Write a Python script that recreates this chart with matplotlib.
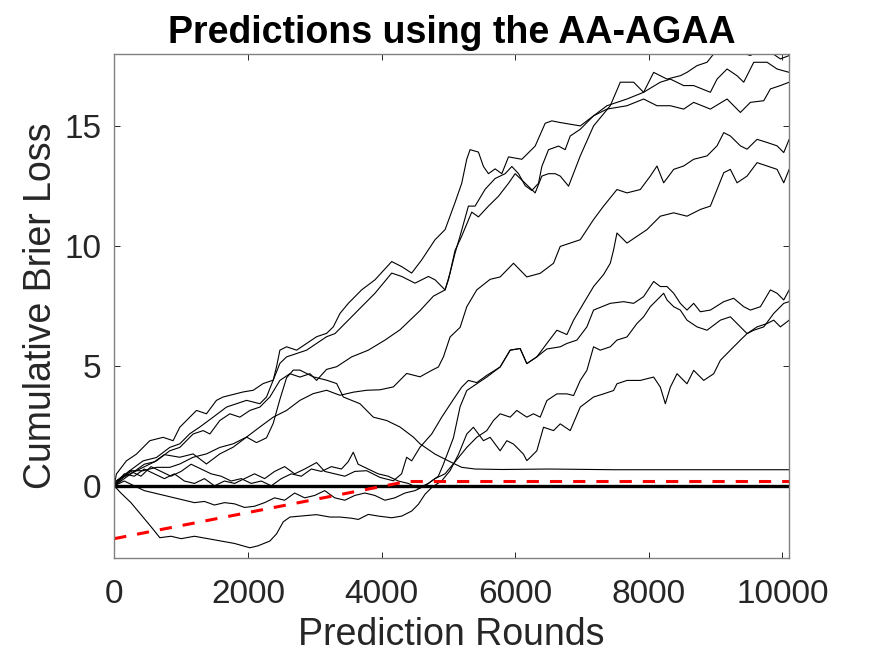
import numpy as np
import matplotlib
matplotlib.use('Agg')
from matplotlib import pyplot as plt

# Puntos: (ronda, perdida acumulada) para cada experto
topA = [(0, 0), (32, 0.49), (182, 1.04), (332, 1.32), (532, 1.88), (731, 2.02), (881, 1.88), (981, 2.44),
        (1131, 2.86), (1231, 3.14), (1380, 3.0), (1530, 3.56), (1630, 3.7), (1830, 3.84), (1930, 3.91),
        (2080, 3.98), (2229, 4.26), (2379, 4.4), (2429, 4.96), (2479, 5.65), (2579, 5.79), (2729, 5.65),
        (2879, 5.93), (3028, 6.21), (3178, 6.35), (3278, 6.62), (3378, 7.18), (3503, 7.6), (3702, 8.16),
        (3902, 8.58), (4152, 9.34), (4302, 9.13), (4451, 8.86), (4601, 9.41), (4701, 9.83), (4801, 10.25),
        (4951, 10.67), (5100, 11.8), (5200, 12.6), (5275, 13.6), (5325, 14.0), (5450, 13.9), (5525, 13.3),
        (5600, 13.0), (5700, 13.2), (5800, 13.0), (5900, 13.7), (6100, 13.6), (6299, 14.15), (6449, 15.1),
        (6549, 15.2), (6674, 15.13), (6974, 14.99), (7173, 15.41), (7373, 15.69), (7673, 15.83), (7922, 16.11),
        (8122, 15.83), (8322, 15.83), (8521, 15.69), (8671, 15.97), (8921, 15.69), (9171, 16.11), (9370, 15.55),
        (9520, 15.97), (9720, 16.04), (9819, 16.53), (9969, 16.67), (10100, 16.81)]

topB = [(0, 0), (32, 0.21), (232, 0.63), (432, 1.04), (632, 1.18), (831, 1.6), (981, 1.75), (1131, 2.17),
        (1281, 2.45), (1480, 2.86), (1680, 3.28), (1830, 3.42), (1980, 3.56), (2179, 3.42), (2279, 3.7),
        (2379, 4.4), (2479, 5.1), (2579, 5.37), (2729, 5.51), (2879, 5.65), (3028, 5.93), (3178, 6.21),
        (3303, 6.34), (3503, 6.9), (3702, 7.46), (3902, 8.02), (4152, 8.86), (4302, 8.72), (4501, 8.44),
        (4701, 8.72), (4801, 8.58), (4951, 8.16), (5025, 8.86), (5100, 9.69), (5175, 10.4), (5300, 11.65),
        (5400, 11.65), (5550, 12.35), (5700, 12.8), (5850, 13.0), (5950, 13.3), (6050, 13.0), (6150, 12.5),
        (6249, 12.3), (6349, 12.6), (6399, 13.3), (6499, 14.0), (6649, 14.15), (6748, 14.0), (6824, 14.57),
        (6974, 14.85), (7173, 15.41), (7373, 15.83), (7673, 16.11), (7922, 16.39), (8172, 16.81), (8322, 16.94),
        (8521, 16.67), (8671, 16.67), (8921, 16.39), (9021, 16.94), (9171, 17.36), (9320, 17.08), (9420, 16.81),
        (9570, 17.64), (9770, 17.64), (9919, 17.36), (10100, 17.22)]

topC = [(0, 0), (32, 0.21), (232, 0.49), (432, 0.77), (632, 1.04), (831, 1.46), (981, 1.6), (1181, 2.16),
        (1331, 2.3), (1431, 2.16), (1580, 2.72), (1730, 3.0), (1880, 2.86), (2030, 3.14), (2179, 3.28),
        (2329, 3.7), (2479, 4.39), (2629, 4.67), (2779, 4.53), (2929, 4.67), (3028, 4.39), (3178, 4.85),
        (3328, 4.96), (3553, 5.37), (3802, 5.65), (4052, 6.07), (4277, 6.5), (4577, 7.3), (4776, 7.9),
        (4951, 8.16), (5003, 8.6), (5100, 9.8), (5200, 10.4), (5350, 11.4), (5450, 11.2), (5600, 11.65),
        (5750, 12.06), (5900, 12.6), (6000, 13.0), (6150, 12.6), (6299, 12.2), (6399, 12.9), (6499, 13.0),
        (6599, 13.0), (6674, 12.9), (6799, 12.48), (6974, 13.74), (7173, 14.99), (7423, 15.83), (7573, 16.81),
        (7772, 16.81), (7922, 16.39), (8072, 17.22), (8272, 16.94), (8471, 17.08), (8571, 17.22), (8721, 17.5),
        (8871, 17.64), (8971, 17.99), (9071, 18.06), (9171, 18.2), (9370, 18.06), (9520, 17.92), (9670, 18.2),
        (9820, 18.06), (9969, 17.78), (10100, 17.92)]

medio1 = [(0, 0), (32, 0.07), (232, 0.63), (432, 0.63), (632, 0.77), (831, 0.77), (981, 0.91), (1181, 1.19),
          (1380, 1.33), (1580, 1.6), (1780, 1.75), (1980, 2.03), (2179, 2.45), (2379, 2.86), (2579, 3.14),
          (2779, 3.56), (2978, 3.84), (3178, 3.98), (3378, 3.77), (3577, 3.9), (3777, 3.98), (3977, 4.0),
          (4177, 4.12), (4376, 4.68), (4576, 4.54), (4751, 4.81), (4851, 4.95), (4926, 5.37), (5026, 6.2),
          (5176, 6.6), (5276, 7.46), (5425, 8.16), (5625, 8.6), (5775, 8.7), (5975, 9.27), (6174, 8.7),
          (6374, 8.85), (6574, 9.27), (6674, 9.97), (6974, 10.25), (7173, 11.09), (7323, 11.65), (7523, 12.34),
          (7673, 12.2), (7872, 12.34), (8022, 12.9), (8122, 13.32), (8222, 12.62), (8372, 13.18), (8521, 13.32),
          (8671, 13.6), (8871, 13.74), (9021, 14.16), (9121, 14.71), (9220, 14.57), (9370, 14.16), (9470, 14.02),
          (9620, 14.43), (9770, 14.3), (9919, 14.16), (10019, 13.88), (10100, 14.43)]

medio2 = [(0, 0), (100, 0.3), (250, 0.6), (400, 0.4), (550, 0.8), (700, 0.6), (850, 0.4), (1000, 0.6),
          (1150, 0.9), (1300, 0.7), (1450, 0.5), (1600, 0.4), (1750, 0.2), (1900, 0.3), (2050, 0.1), (2200, 0.2),
          (2350, 0.0), (2500, 0.3), (2650, 0.5), (2800, 0.4), (2950, 0.7), (3100, 0.6), (3250, 0.8), (3400, 0.7),
          (3500, 1.0), (3577, 1.4), (3650, 0.9), (3800, 0.7), (3950, 0.5), (4100, 0.4), (4250, 0.2), (4400, 0.1),
          (4550, -0.1), (4700, 0.1), (4850, 0.4), (4926, 0.9), (5076, 2.0), (5176, 3.3), (5276, 3.97),
          (5425, 4.25), (5575, 4.53), (5775, 4.95), (5925, 5.65), (6074, 5.72), (6174, 5.09), (6324, 5.37),
          (6474, 5.93), (6624, 6.48), (6774, 6.3), (6874, 6.9), (7023, 7.6), (7173, 8.3), (7323, 8.8),
          (7423, 9.27), (7473, 9.83), (7523, 10.53), (7673, 10.11), (7822, 10.39), (7972, 10.67), (8072, 10.95),
          (8172, 11.23), (8372, 11.37), (8571, 11.23), (8771, 11.51), (8921, 11.65), (9021, 12.34), (9121, 13.04),
          (9220, 13.18), (9320, 12.62), (9470, 12.9), (9620, 13.46), (9770, 13.32), (9919, 13.18),
          (10019, 12.62), (10100, 13.18)]

baja1 = [(0, 0), (150, 0.5), (300, 0.4), (450, 0.7), (600, 0.5), (750, 0.3), (900, 0.5), (1050, 0.2),
         (1200, 0.1), (1350, 0.3), (1500, 0.0), (1650, 0.2), (1800, 0.1), (1950, 0.3), (2100, 0.5), (2250, 0.3),
         (2400, 0.6), (2550, 0.8), (2700, 0.5), (2850, 0.7), (3028, 0.97), (3150, 0.6), (3300, 0.5), (3450, 0.4),
         (3600, 0.6), (3777, 0.63), (3977, 0.35), (4177, 0.21), (4300, 0.5), (4376, 1.19), (4451, 1.04),
         (4576, 1.61), (4751, 2.16), (4901, 2.86), (5000, 3.28), (5100, 3.7), (5200, 4.11), (5300, 4.39),
         (5425, 4.3), (5575, 4.6), (5775, 4.95), (5925, 5.65), (6074, 5.72), (6174, 5.09), (6324, 5.37),
         (6474, 5.7), (6674, 5.79), (6774, 5.93), (6924, 6.07), (7073, 6.62), (7173, 7.32), (7423, 7.6),
         (7623, 7.67), (7772, 7.6), (7922, 7.88), (8072, 8.51), (8172, 8.3), (8272, 8.3), (8372, 8.02),
         (8471, 7.6), (8571, 7.32), (8671, 7.6), (8771, 7.25), (8921, 7.32), (9121, 7.67), (9270, 7.81),
         (9420, 7.46), (9520, 7.32), (9670, 7.46), (9819, 8.16), (9919, 8.02), (10019, 7.74), (10100, 8.16)]

baja2 = [(0, 0), (150, 0.2), (300, 0.0), (450, -0.2), (600, -0.3), (750, -0.4), (900, -0.5), (1050, -0.6),
         (1200, -0.7), (1350, -0.65), (1500, -0.8), (1650, -0.7), (1800, -0.75), (1950, -0.9), (2100, -0.85),
         (2250, -0.7), (2400, -0.5), (2550, -0.6), (2700, -0.3), (2850, -0.5), (3000, -0.4), (3150, -0.2),
         (3300, -0.5), (3450, -0.6), (3600, -0.4), (3750, -0.3), (3900, -0.4), (4050, -0.6), (4200, -0.5),
         (4350, -0.3), (4500, -0.2), (4650, 0.0), (4800, 0.3), (4950, 0.5), (5100, 1.0), (5276, 1.6),
         (5425, 2.02), (5575, 2.3), (5675, 2.72), (5775, 3.0), (5925, 2.86), (6024, 3.14), (6174, 2.86),
         (6274, 3.0), (6374, 2.86), (6474, 3.55), (6624, 3.83), (6774, 3.83), (6874, 3.76), (6974, 4.39),
         (7073, 4.81), (7173, 5.79), (7273, 5.65), (7423, 5.79), (7523, 6.07), (7673, 6.2), (7822, 6.76),
         (7922, 7.04), (8022, 7.46), (8122, 7.74), (8222, 8.02), (8272, 7.74), (8372, 7.46), (8471, 7.32),
         (8571, 6.9), (8721, 6.62), (8871, 6.48), (9071, 6.9), (9220, 7.04), (9370, 6.62), (9470, 6.34),
         (9570, 6.48), (9720, 6.62), (9869, 7.18), (10019, 7.6), (10100, 7.67)]

baja3 = [(0, 0), (100, -0.3), (250, -0.7), (400, -1.2), (550, -1.7), (682, -2.16), (850, -2.1), (1000, -2.2),
         (1200, -2.1), (1400, -2.2), (1600, -2.3), (1800, -2.4), (2029, -2.58), (2150, -2.5), (2329, -2.3),
         (2429, -2.0), (2529, -1.5), (2629, -1.3), (2829, -1.25), (3028, -1.2), (3228, -1.3), (3378, -1.3),
         (3553, -1.35), (3653, -1.4), (3802, -1.19), (3952, -1.26), (4152, -1.33), (4302, -1.26), (4451, -1.05),
         (4551, -0.77), (4651, -0.35), (4751, -0.07), (4901, 0.21), (5025, 0.63), (5150, 1.3), (5276, 2.16),
         (5375, 2.44), (5525, 1.88), (5625, 2.02), (5775, 1.46), (5875, 1.88), (5975, 1.74), (6124, 1.32),
         (6174, 1.05), (6224, 1.18), (6324, 1.46), (6424, 2.44), (6574, 2.3), (6674, 2.58), (6824, 2.3),
         (6974, 3.28), (7173, 3.7), (7323, 3.83), (7473, 3.97), (7523, 4.25), (7673, 4.39), (7872, 4.39),
         (8072, 4.53), (8172, 4.11), (8247, 3.42), (8322, 4.11), (8422, 4.67), (8571, 4.25), (8671, 4.81),
         (8821, 4.39), (8971, 4.67), (9071, 5.23), (9220, 5.65), (9370, 6.07), (9470, 6.34), (9620, 6.62),
         (9770, 6.76), (9869, 6.9), (9969, 6.62), (10100, 6.9)]

decae = [(0, 0), (150, 0.3), (300, 0.6), (450, 0.9), (600, 1.0), (750, 1.3), (981, 1.19), (1181, 1.33),
         (1380, 0.91), (1580, 1.33), (1780, 1.61), (1980, 2.03), (2129, 1.8), (2279, 2.0), (2379, 2.6),
         (2479, 3.6), (2579, 4.5), (2679, 4.82), (2779, 4.82), (2978, 4.54), (3178, 4.4), (3328, 4.26),
         (3428, 3.7), (3677, 3.42), (3877, 2.86), (4077, 2.72), (4276, 2.45), (4476, 2.03), (4576, 1.75),
         (4801, 1.32), (5000, 1.04), (5200, 0.77), (5400, 0.7), (5800, 0.68), (6500, 0.7), (7500, 0.67),
         (8500, 0.67), (10100, 0.67)]

expertos = [topA, topB, topC, medio1, medio2, baja1, baja2, baja3, decae]

# Cota teorica (linea roja) y referencia en cero
cota_x = [0, 4380, 10100]
cota_y = [-2.2, 0.18, 0.18]
cero_x = [0, 10100]
cero_y = [0, 0]

plt.rcParams['font.family'] = ['Liberation Sans', 'DejaVu Sans']

fig = plt.figure(figsize=(8.72, 6.54), dpi=100)
ax = fig.add_axes([0.131, 0.147, 0.774, 0.771])

for serie in expertos:
    datos = np.array(serie).T
    ax.plot(datos[0], datos[1], color='black', linewidth=0.8)

ax.plot(cero_x, cero_y, color='black', linewidth=2.4)
ax.plot(cota_x, cota_y, color='#ff0000', linewidth=2.2, dashes=(4, 3.6))

ax.set_xlim(0, 10100)
ax.set_ylim(-3, 18)
ax.set_xticks([0, 2000, 4000, 6000, 8000, 10000])
ax.set_yticks([0, 5, 10, 15])

for lado in ax.spines.values():
    lado.set_color('#808080')
    lado.set_linewidth(1.0)
ax.tick_params(direction='in', length=4, width=0.7, color='#262626',
               top=True, right=True, labelsize=24, labelcolor='#262626')
ax.tick_params(axis='x', pad=15)
ax.tick_params(axis='y', pad=9)

ax.set_xlabel('Prediction Rounds', fontsize=27, color='#262626', labelpad=5)
ax.set_ylabel('Cumulative Brier Loss', fontsize=27, color='#262626', labelpad=4)
ax.set_title('Predictions using the AA-AGAA', fontsize=27, fontweight='bold', pad=8)

plt.savefig('out.png', dpi=100)
